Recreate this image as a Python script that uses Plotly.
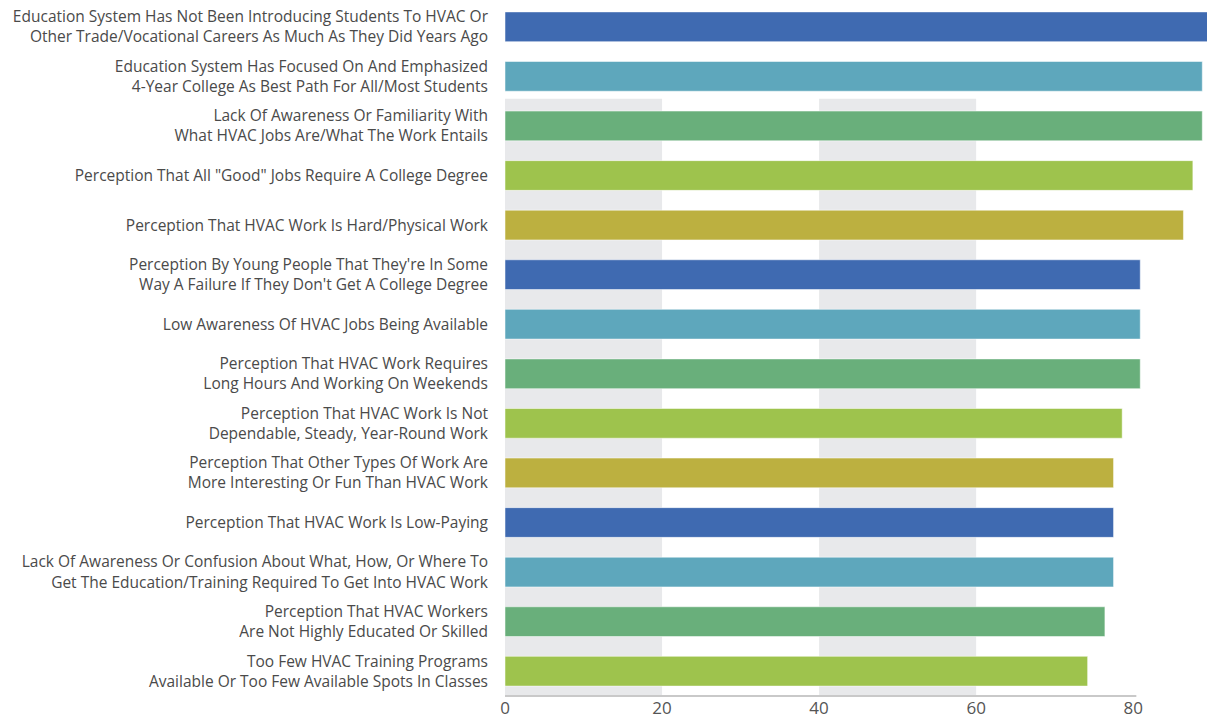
import plotly.graph_objects as go

categories = [
    "Education System Has Not Been Introducing Students To HVAC Or<br>Other Trade/Vocational Careers As Much As They Did Years Ago",
    "Education System Has Focused On And Emphasized<br>4-Year College As Best Path For All/Most Students",
    "Lack Of Awareness Or Familiarity With<br>What HVAC Jobs Are/What The Work Entails",
    "Perception That All \"Good\" Jobs Require A College Degree",
    "Perception That HVAC Work Is Hard/Physical Work",
    "Perception By Young People That They're In Some<br>Way A Failure If They Don't Get A College Degree",
    "Low Awareness Of HVAC Jobs Being Available",
    "Perception That HVAC Work Requires<br>Long Hours And Working On Weekends",
    "Perception That HVAC Work Is Not<br>Dependable, Steady, Year-Round Work",
    "Perception That Other Types Of Work Are<br>More Interesting Or Fun Than HVAC Work",
    "Perception That HVAC Work Is Low-Paying",
    "Lack Of Awareness Or Confusion About What, How, Or Where To<br>Get The Education/Training Required To Get Into HVAC Work",
    "Perception That HVAC Workers<br>Are Not Highly Educated Or Skilled",
    "Too Few HVAC Training Programs<br>Available Or Too Few Available Spots In Classes",
]
values = [91, 88.8, 88.8, 87.6, 86.4, 80.9, 80.9, 80.9, 78.6, 77.5, 77.5, 77.5, 76.4, 74.2]
palette = ["#3F6AB1", "#5EA7BC", "#69AF7B", "#9EC34D", "#BCB040"]
colors = [palette[i % len(palette)] for i in range(len(values))]
tick_vals = [0, 20, 40, 60, 80]

fig = go.Figure()
fig.add_trace(go.Bar(
    x=values, y=categories, orientation="h",
    marker=dict(color=colors, line=dict(color="rgba(255,255,255,0.5)", width=1)),
    hoverinfo="x+y",
))

# gray background bands
for x0, x1 in [(0, 20), (40, 60)]:
    fig.add_shape(type="rect", xref="x", yref="y", x0=x0, x1=x1, y0=1.45, y1=13.5,
                  fillcolor="#E8E9EB", line=dict(width=0), layer="below")
# bottom axis line
fig.add_shape(type="line", xref="x", yref="paper", x0=0, x1=80.4, y0=0, y1=0,
              line=dict(color="#C9C9C9", width=2))

fig.update_layout(
    width=1207, height=719,
    margin=dict(l=505, r=0, t=2, b=21),
    plot_bgcolor="white", paper_bgcolor="white",
    bargap=0.4,
    showlegend=False,
    font=dict(family="Open Sans, Lato, sans-serif", color="#4A4A4A", size=15.5),
    xaxis=dict(range=[0, 89.4], tickvals=tick_vals, showgrid=False, zeroline=False,
               showline=False, tickfont=dict(size=17, color="#555555"), fixedrange=True),
    yaxis=dict(autorange="reversed", showgrid=False, zeroline=False, showline=False,
               ticklabelstandoff=16, tickfont=dict(size=15.5, color="#4A4A4A")),
)

fig.write_html("out.html", config={"displayModeBar": False},
               post_script="document.body.style.margin='0';document.body.style.overflow='hidden';")
